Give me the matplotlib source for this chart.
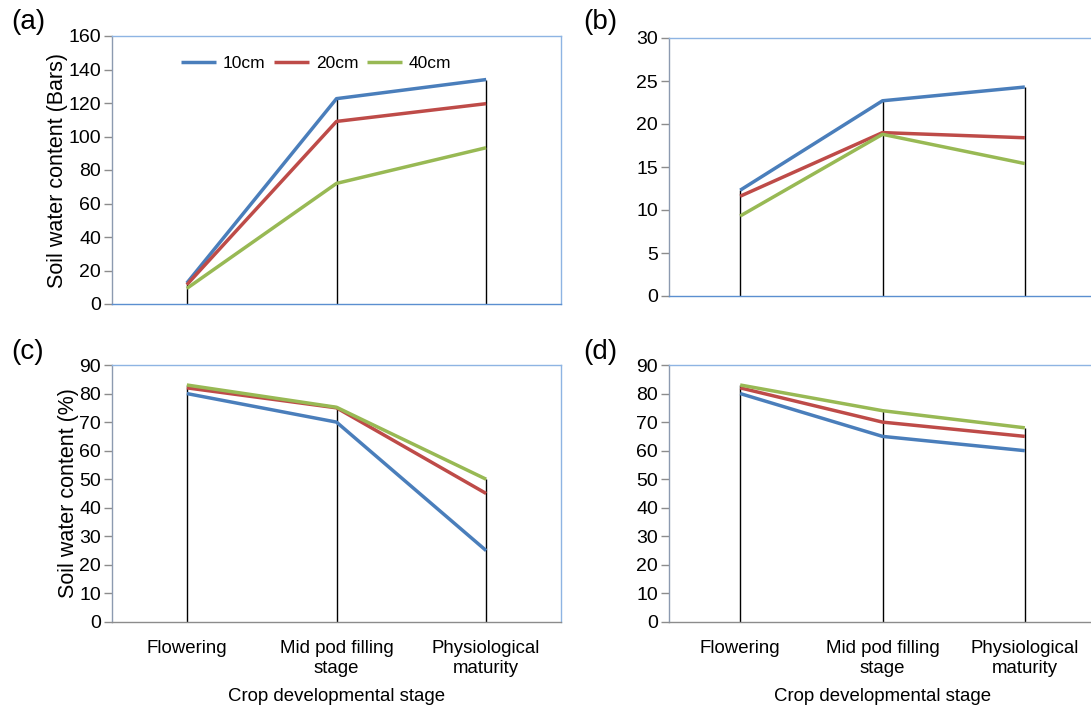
import matplotlib
matplotlib.use("Agg")
import matplotlib.pyplot as plt

plt.rcParams['font.family'] = ['Liberation Sans', 'DejaVu Sans']

stages = ["Flowering", "Mid pod filling\nstage", "Physiological\nmaturity"]
depths = ["10cm", "20cm", "40cm"]
colors = ["#4A7EBB", "#BE4B48", "#98B954"]

a_10 = [12.5, 122.6, 134.0]
a_20 = [11.5, 109.0, 119.6]
a_40 = [9.3, 72.0, 93.3]

b_10 = [12.3, 22.7, 24.3]
b_20 = [11.6, 19.0, 18.4]
b_40 = [9.3, 18.8, 15.4]

c_10 = [80, 70, 25]
c_20 = [82, 75, 45]
c_40 = [83, 75.2, 50]

d_10 = [80, 65, 60]
d_20 = [82, 70, 65]
d_40 = [83, 74, 68]

W, H = 1091, 707
fig = plt.figure(figsize=(W / 100, H / 100), dpi=100)


def box(l, t, r, b):
    return [l / W, (H - b) / H, (r - l) / W, (b - t) / H]


panels = [
    ("(a)", box(112, 36, 561, 304), [a_10, a_20, a_40], 160, 20, "#5B8FD0",
     "Soil water content (Bars)", False, True, (28, 22)),
    ("(b)", box(669, 38, 1096, 296), [b_10, b_20, b_40], 30, 5, "#5B8FD0",
     None, False, False, (600, 22)),
    ("(c)", box(112, 365, 561, 622), [c_10, c_20, c_40], 90, 10, "#8C8C8C",
     "Soil water content (%)", True, False, (28, 352)),
    ("(d)", box(669, 365, 1096, 622), [d_10, d_20, d_40], 90, 10, "#8C8C8C",
     None, True, False, (600, 352)),
]

x = list(range(len(stages)))
for label, rect, series, ymax, step, bottom_col, ylabel, show_x, legend, lpos in panels:
    ax = fig.add_axes(rect)
    ax.set_xlim(-0.5, 2.5)
    ax.set_ylim(0, ymax)
    maxima = [max(s[i] for s in series) for i in x]
    ax.vlines(x, 0, maxima, color="black", linewidth=1.0, zorder=2)
    for s, c, d in zip(series, colors, depths):
        ax.plot(x, s, color=c, linewidth=2.5, label=d, zorder=3,
                solid_capstyle='butt')
    ax.set_yticks(range(0, ymax + 1, step))
    ax.tick_params(axis='y', direction='out', length=6, width=1,
                   color="#8C8C8C", labelsize=14, pad=2)
    if show_x:
        ax.set_xticks(x)
        ax.set_xticklabels(stages, fontsize=13.4, linespacing=1.2)
        ax.tick_params(axis='x', length=0, pad=13)
        ax.set_xlabel("Crop developmental stage", fontsize=13.4, labelpad=8)
    else:
        ax.set_xticks([])
    if ylabel:
        ax.set_ylabel(ylabel, fontsize=15.5, labelpad=0)
    ax.spines['top'].set_color("#8EB4E3")
    ax.spines['right'].set_color("#8EB4E3")
    ax.spines['left'].set_color("#8C9AB0")
    ax.spines['bottom'].set_color(bottom_col)
    for sp in ax.spines.values():
        sp.set_linewidth(1.0)
    if legend:
        ax.legend(loc='upper center', ncol=3, frameon=False, fontsize=12.5,
                  handlelength=2.0, handletextpad=0.4, columnspacing=0.5,
                  bbox_to_anchor=(0.455, 0.985))
    fig.text(lpos[0] / W, 1 - lpos[1] / H, label, fontsize=20,
             ha='center', va='center')

fig.savefig("out.png", dpi=100)
